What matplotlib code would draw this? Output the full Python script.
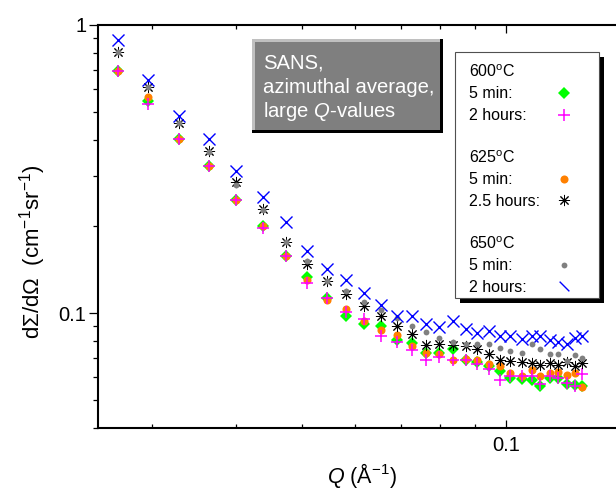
import matplotlib
matplotlib.use('Agg')
import matplotlib.pyplot as plt
from matplotlib.patches import Rectangle
from matplotlib.lines import Line2D
from matplotlib.path import Path
from matplotlib.ticker import FixedLocator, FixedFormatter, LogLocator, NullFormatter

plt.rcParams['font.family'] = ['Liberation Sans', 'DejaVu Sans']
plt.rcParams['mathtext.fontset'] = 'custom'
plt.rcParams['mathtext.rm'] = 'Liberation Sans'
plt.rcParams['mathtext.it'] = 'Liberation Sans:italic'
plt.rcParams['mathtext.bf'] = 'Liberation Sans:bold'

# ---------------- data ----------------
q = [0.0268, 0.0296, 0.0329, 0.0364, 0.0400, 0.0438, 0.0473, 0.0508, 0.0544, 0.0580,
     0.0617, 0.0654, 0.0690, 0.0726, 0.0762, 0.0796, 0.0835, 0.0873, 0.0906, 0.0944,
     0.0980, 0.1014, 0.1056, 0.1092, 0.1123, 0.1161, 0.1194, 0.1230, 0.1265, 0.1295]

i600_5min = [0.693, 0.545, 0.403, 0.325, 0.247, 0.201, 0.158, 0.1335, 0.1129, 0.0980,
             0.0920, 0.0900, 0.0809, 0.0788, 0.0729, 0.0731, 0.0751, 0.0690, 0.0675, 0.0654,
             0.0633, 0.0596, 0.0592, 0.0588, 0.0561, 0.0598, 0.0598, 0.0569, 0.0565, 0.0561]
i600_2h = [0.693, 0.531, 0.403, 0.325, 0.247, 0.197, 0.158, 0.1272, 0.1129, 0.1014,
           0.0954, 0.0831, 0.0798, 0.0743, 0.0690, 0.0705, 0.0690, 0.0690, 0.0668, 0.0641,
           0.0588, 0.0604, 0.0607, 0.0604, 0.0569, 0.0604, 0.0596, 0.0573, 0.0558, 0.0617]
i625_5min = [0.693, 0.564, 0.403, 0.325, 0.247, 0.201, 0.158, 0.1307, 0.1113, 0.1036,
             0.0937, 0.0877, 0.0842, 0.0773, 0.0731, 0.0724, 0.0690, 0.0694, 0.0690, 0.0668,
             0.0654, 0.0620, 0.0604, 0.0637, 0.0607, 0.0623, 0.0628, 0.0612, 0.0623, 0.0555]
i625_25h = [0.808, 0.611, 0.458, 0.366, 0.286, 0.230, 0.177, 0.148, 0.129, 0.117,
            0.106, 0.0975, 0.0900, 0.0849, 0.0778, 0.0784, 0.0778, 0.0767, 0.0751, 0.0724,
            0.0690, 0.0681, 0.0675, 0.0672, 0.0663, 0.0672, 0.0663, 0.0675, 0.0654, 0.0672]
i650_5min = [0.808, 0.611, 0.458, 0.363, 0.279, 0.228, 0.177, 0.152, 0.129, 0.1197,
             0.1090, 0.1028, 0.0963, 0.0905, 0.0861, 0.0820, 0.0798, 0.0784, 0.0784, 0.0784,
             0.0757, 0.0737, 0.0728, 0.0784, 0.0751, 0.0724, 0.0724, 0.0681, 0.0718, 0.0701]
i650_2h = [0.887, 0.645, 0.485, 0.402, 0.312, 0.254, 0.208, 0.165, 0.143, 0.130,
           0.118, 0.1066, 0.0980, 0.0975, 0.0920, 0.0893, 0.0937, 0.0882, 0.0854, 0.0865,
           0.0831, 0.0831, 0.0814, 0.0831, 0.0831, 0.0809, 0.0798, 0.0784, 0.0820, 0.0831]

x_major = [0.1]
x_major_labels = ['0.1']
y_major = [0.1, 1]
y_major_labels = ['0.1', '1']

legend_rows = ['600$^{\\mathrm{o}}$C', '5 min:', '2 hours:', '',
               '625$^{\\mathrm{o}}$C', '5 min:', '2.5 hours:', '',
               '650$^{\\mathrm{o}}$C', '5 min:', '2 hours:']
box_lines = ['SANS,', 'azimuthal average,', 'large $\\mathit{Q}$-values']

# ---------------- styles ----------------
asterisk = (8, 2, 0)
backslash = Path([(-1, 1), (1, -1)], [Path.MOVETO, Path.LINETO])
styles = {
    '600_5': dict(marker='D', color='#00ff00', ms=6, mew=0),
    '625_5': dict(marker='o', color='#ff8000', ms=5.8, mew=0),
    '600_2': dict(marker='+', color='#ff00ff', ms=9, mew=1.1),
    '625_25': dict(marker=asterisk, color='black', ms=8, mew=0.7),
    '650_5': dict(marker='o', color='#808080', ms=4.2, mew=0),
    '650_2': dict(marker='x', color='#0000ff', ms=8, mew=1.0),
}
series = [('600_5', i600_5min), ('625_5', i625_5min), ('600_2', i600_2h),
          ('625_25', i625_25h), ('650_5', i650_5min), ('650_2', i650_2h)]

W, H = 616, 488
fig = plt.figure(figsize=(W / 100, H / 100), dpi=100)


def fx(x):
    return x / W


def fy(y):
    return 1 - y / H


ax = fig.add_axes([fx(98), fy(428), (625 - 98) / W, (428 - 25) / H])
ax.set_xscale('log')
ax.set_yscale('log')

for z, (key, vals) in enumerate(series):
    st = styles[key]
    ax.plot(q, vals, ls='none', marker=st['marker'], color=st['color'],
            mfc=st['color'], mec=st['color'], ms=st['ms'], mew=st['mew'],
            zorder=3 + z)

ax.set_xlim(0.025, 0.15)
ax.set_ylim(0.04, 1)

ax.xaxis.set_major_locator(FixedLocator(x_major))
ax.xaxis.set_major_formatter(FixedFormatter(x_major_labels))
ax.xaxis.set_minor_locator(LogLocator(base=10, subs=range(2, 10)))
ax.xaxis.set_minor_formatter(NullFormatter())
ax.yaxis.set_major_locator(FixedLocator(y_major))
ax.yaxis.set_major_formatter(FixedFormatter(y_major_labels))
ax.yaxis.set_minor_locator(LogLocator(base=10, subs=range(2, 10)))
ax.yaxis.set_minor_formatter(NullFormatter())

ax.tick_params(axis='x', which='both', direction='in', top=True, bottom=True,
               labelsize=14.5, width=0.9, pad=6)
ax.tick_params(axis='x', which='major', length=5.5)
ax.tick_params(axis='x', which='minor', length=2.7)
ax.tick_params(axis='y', which='both', direction='out', left=True, right=False,
               labelsize=14.5, width=0.9, pad=2)
ax.tick_params(axis='y', which='major', length=6.5)
ax.tick_params(axis='y', which='minor', length=3.8)
for s in ax.spines.values():
    s.set_linewidth(1.5)

fig.text(fx(33), fy(252), 'd\u03a3/d\u03a9  (cm$^{-1}$sr$^{-1}$)', rotation=90,
         ha='center', va='center', fontsize=16)
fig.text(fx(362), fy(475), '$\\mathit{Q}$ (\u00c5$^{-1}$)', ha='center', va='center',
         fontsize=15.5)

# ---------------- grey text box ----------------
def rect(x0, y0, x1, y1, **kw):
    r = Rectangle((fx(x0), fy(y1)), fx(x1) - fx(x0), fy(y0) - fy(y1),
                  transform=fig.transFigure, **kw)
    fig.add_artist(r)
    return r

rect(252, 39, 443, 133, facecolor='black', edgecolor='none', zorder=10)
rect(252, 39, 440, 130, facecolor='#c0c0c0', edgecolor='none', zorder=11)
rect(255, 42, 440, 130, facecolor='#7f7f7f', edgecolor='none', zorder=12)
for i, line in enumerate(box_lines):
    fig.text(fx(263), fy(68.3 + 24.5 * i), line, color='white', fontsize=14.6,
             ha='left', va='baseline', zorder=13)

# ---------------- legend box ----------------
rect(460, 57, 604, 303, facecolor='black', edgecolor='none', zorder=10)
rect(455, 52, 599, 298, facecolor='white', edgecolor='#505050', linewidth=0.8, zorder=11)
legend_keys = [None, '600_5', '600_2', None, None, '625_5', '625_25', None, None, '650_5', 'legend_blue']
for i, (txt, key) in enumerate(zip(legend_rows, legend_keys)):
    yc = 71.7 + 21.45 * i
    if txt:
        fig.text(fx(469), fy(yc + 5.3), txt, fontsize=11.5, ha='left', va='baseline', zorder=13)
    if key is None:
        continue
    if key == 'legend_blue':
        st = dict(marker=backslash, color='#0000ff', ms=7, mew=1.0)
    else:
        st = styles[key]
    fig.add_artist(Line2D([fx(564)], [fy(yc)], transform=fig.transFigure, ls='none',
                          marker=st['marker'], color=st['color'], mfc=st['color'],
                          mec=st['color'], ms=st['ms'], mew=st['mew'], zorder=13))

fig.savefig('out.png', dpi=100)
